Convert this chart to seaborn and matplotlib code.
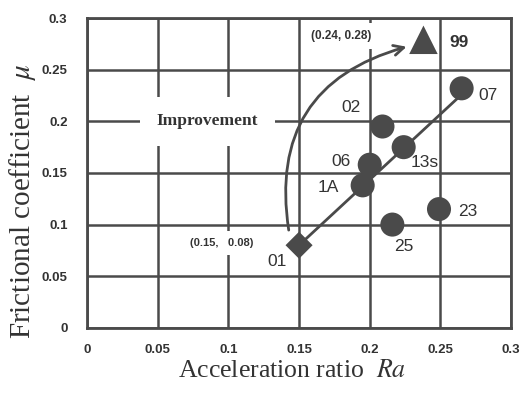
import matplotlib

matplotlib.use("Agg", force=True)
import matplotlib.pyplot as plt
import pandas as pd
import seaborn as sns

# samples
labels = ["01", "1A", "06", "13s", "02", "07", "25", "23", "99"]
ra = [0.150, 0.195, 0.200, 0.224, 0.209, 0.265, 0.216, 0.249, 0.238]
mu = [0.080, 0.138, 0.158, 0.175, 0.195, 0.232, 0.100, 0.115, 0.279]
kind = ["start", "pt", "pt", "pt", "pt", "pt", "pt", "pt", "goal"]

trend_x = [0.150, 0.265]
trend_y = [0.080, 0.226]

ticks = [0, 0.05, 0.1, 0.15, 0.2, 0.25, 0.3]
tick_text = ["0", "0.05", "0.1", "0.15", "0.2", "0.25", "0.3"]

df = pd.DataFrame({"label": labels, "ra": ra, "mu": mu, "kind": kind})
ink = "#4a4a4a"
txt = "#333333"

sns.set_theme(style="white")
plt.rcParams["font.family"] = ["Liberation Sans", "DejaVu Sans"]
plt.rcParams["mathtext.fontset"] = "stix"

fig = plt.figure(figsize=(5.21, 3.94), dpi=100)
ax = fig.add_axes([0.167, 0.168, 0.814, 0.786])

ax.set_xlim(0, 0.3)
ax.set_ylim(0, 0.3)
ax.set_xticks(ticks)
ax.set_yticks(ticks)
ax.set_xticklabels(tick_text, fontsize=9.5, fontweight="bold", color=txt)
ax.set_yticklabels(tick_text, fontsize=9.5, fontweight="bold", color=txt)
ax.tick_params(axis="x", length=0, pad=12)
ax.tick_params(axis="y", length=0, pad=14)
ax.grid(True, color=ink, linewidth=1.8, zorder=0)
ax.set_axisbelow(True)
for sp in ax.spines.values():
    sp.set_color(ink)
    sp.set_linewidth(2)

sns.lineplot(x=trend_x, y=trend_y, color=ink, linewidth=2, ax=ax, zorder=3)
sns.scatterplot(data=df, x="ra", y="mu", style="kind", size="kind",
                markers={"pt": "o", "start": "D", "goal": "^"},
                sizes={"pt": 300, "start": 190, "goal": 420},
                color=ink, edgecolor="none", legend=False, ax=ax, zorder=4)

# point labels
offsets = {"01": (-0.0156, -0.0155), "1A": (-0.024, -0.002), "06": (-0.0205, 0.003),
           "13s": (0.015, -0.0145), "02": (-0.022, 0.018), "07": (0.019, -0.007),
           "25": (0.008, -0.021), "23": (0.02, -0.002), "99": (0.025, -0.003)}
for lab, x, y in zip(labels, ra, mu):
    dx, dy = offsets[lab]
    ax.text(x + dx, y + dy, lab, fontsize=12.5, color=txt,
            fontweight="bold" if lab == "99" else "normal",
            ha="center", va="center", zorder=5)

box = dict(facecolor="white", edgecolor="none", pad=5)
ax.text(0.18, 0.283, "(0.24, 0.28)", fontsize=8.5, fontweight="bold",
        color=txt, ha="center", va="center", bbox=box, zorder=2)
ax.text(0.0955, 0.082, "(0.15,   0.08)", fontsize=8, fontweight="bold",
        color=txt, ha="center", va="center", bbox=box, zorder=2)
ax.text(0.085, 0.2, "Improvement", fontsize=12.5, fontweight="bold",
        family="Liberation Serif", color=txt, ha="center", va="center",
        bbox=dict(facecolor="white", edgecolor="none", pad=12), zorder=2)

ax.annotate("", xy=(0.228, 0.273), xytext=(0.143, 0.092),
            arrowprops=dict(arrowstyle="->", color=ink, lw=2,
                            mutation_scale=18,
                            connectionstyle="arc3,rad=-0.45"),
            zorder=3)

ax.set_xlabel("Acceleration ratio  $\\mathit{Ra}$", fontsize=18.5,
              family="Liberation Serif", color=txt, va="center", ha="center")
ax.set_ylabel("Frictional coefficient  $\\mu$", fontsize=21,
              family="Liberation Serif", color=txt, va="center", ha="center")
ax.xaxis.set_label_coords(0.483, -0.14)
ax.yaxis.set_label_coords(-0.151, 0.41)

fig.savefig("out.png", dpi=100)
